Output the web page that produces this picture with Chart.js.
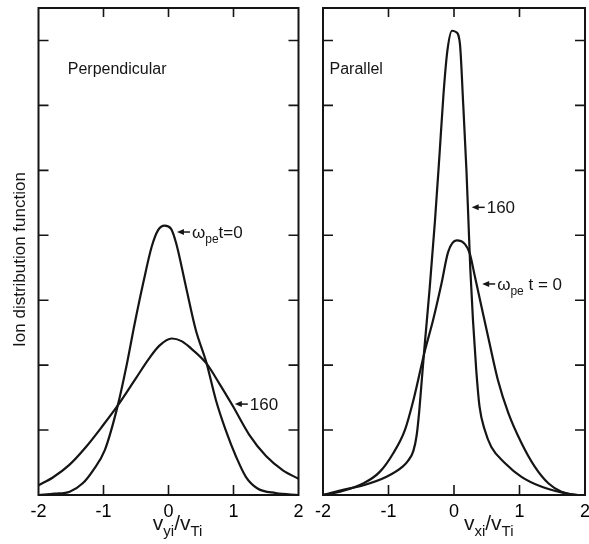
<!DOCTYPE html>
<html>
<head>
<meta charset="utf-8">
<script src="https://cdn.jsdelivr.net/npm/chart.js@4.4.1/dist/chart.umd.min.js"></script>
<style>
  html, body { margin: 0; padding: 0; background: #fff; }
  #wrap { position: relative; width: 589px; height: 544px; }
  canvas { position: absolute; top: 0; }
</style>
</head>
<body>
<div id="wrap">
  <canvas id="perp" width="312" height="544" style="left:0"></canvas>
  <canvas id="para" width="277" height="544" style="left:312px"></canvas>
</div>
<script>
// Perpendicular panel, omega_pe t = 0 (narrow) and 160 (broad)
const perpX0 = [-2, -1.75, -1.52, -1.32, -1.16, -0.98, -0.78, -0.65, -0.52, -0.39, -0.26, -0.16, -0.06, 0.04, 0.12, 0.27, 0.42, 0.58, 0.73, 0.88, 1.04, 1.19, 1.37, 1.65, 2];
const perpY0 = [0, 0.02, 0.05, 0.18, 0.38, 0.69, 1.38, 1.97, 2.64, 3.26, 3.82, 4.08, 4.15, 4.1, 3.87, 3.2, 2.54, 2.05, 1.46, 1.0, 0.59, 0.28, 0.1, 0.03, 0];
const perpX1 = [-2, -1.78, -1.53, -1.27, -1.01, -0.78, -0.5, -0.3, -0.14, 0.05, 0.2, 0.32, 0.58, 0.78, 0.99, 1.24, 1.5, 1.76, 2];
const perpY1 = [0.15, 0.27, 0.46, 0.74, 1.07, 1.38, 1.8, 2.1, 2.3, 2.41, 2.37, 2.28, 2.03, 1.72, 1.37, 0.93, 0.6, 0.38, 0.25];

// Parallel panel, omega_pe t = 0 (broad) and 160 (tall)
const paraX0 = [-2, -1.74, -1.38, -1.13, -0.93, -0.75, -0.62, -0.45, -0.32, -0.19, -0.09, 0.04, 0.17, 0.24, 0.32, 0.42, 0.52, 0.67, 0.83, 1.03, 1.23, 1.44, 1.64, 1.89, 2];
const paraY0 = [0, 0.05, 0.18, 0.36, 0.64, 1.0, 1.46, 2.2, 2.69, 3.26, 3.74, 3.92, 3.86, 3.72, 3.36, 2.9, 2.44, 1.77, 1.26, 0.8, 0.44, 0.18, 0.05, 0, 0];
const paraX1 = [-2, -1.74, -1.38, -1.03, -0.78, -0.7, -0.62, -0.57, -0.53, -0.5, -0.45, -0.37, -0.29, -0.22, -0.16, -0.1, -0.03, 0.03, 0.09, 0.14, 0.19, 0.22, 0.25, 0.29, 0.34, 0.39, 0.47, 0.57, 0.78, 1.03, 1.33, 1.64, 1.9, 2];
const paraY1 = [0, 0.07, 0.15, 0.28, 0.44, 0.53, 0.68, 0.92, 1.3, 1.67, 2.28, 3.2, 4.23, 5.26, 6.18, 6.85, 7.15, 7.13, 6.95, 6.03, 5.0, 4.23, 3.46, 2.69, 1.92, 1.36, 1.0, 0.74, 0.49, 0.28, 0.13, 0.04, 0, 0];

// labels ('_' = subscript)
const yTitle = 'Ion distribution function';
const perpTitle = ['v', '_yi', '/', 'v', '_Ti'];
const paraTitle = ['v', '_xi', '/', 'v', '_Ti'];
const perpLabel0 = ['ω', '_pe', 't', '=', '0'];
const paraLabel0 = ['ω', '_pe', ' t = 0'];
const label160 = ['160'];

const INK = '#151515';
const FONT = '"Liberation Sans", Arial, sans-serif';

function pts(xs, ys) { return xs.map((x, i) => ({ x, y: ys[i] })); }

function rich(ctx, parts, x, y, size, measureOnly) {
    let cx = x;
    parts.forEach(p => {
        const sub = p[0] === '_';
        const t = sub ? p.slice(1) : p;
        ctx.font = (sub ? Math.round(size * 0.72) : size) + 'px ' + FONT;
        if (!measureOnly) ctx.fillText(t, cx, sub ? y + size * 0.3 : y);
        cx += ctx.measureText(t).width;
    });
    return cx - x;
}

function makePaper(cfg) {
    return {
        id: 'paper',
        afterDraw(chart) {
            const { ctx, chartArea: a, scales: { x, y } } = chart;
            ctx.save();
            ctx.strokeStyle = INK;
            ctx.fillStyle = INK;
            ctx.lineWidth = 2;
            ctx.strokeRect(a.left, a.top, a.right - a.left, a.bottom - a.top);

            // inward ticks on all four sides
            ctx.lineWidth = 1.6;
            ctx.beginPath();
            x.ticks.forEach(t => {
                if (t.value <= x.min || t.value >= x.max) return;
                const px = x.getPixelForValue(t.value);
                ctx.moveTo(px, a.bottom); ctx.lineTo(px, a.bottom - 10);
                ctx.moveTo(px, a.top); ctx.lineTo(px, a.top + 9);
            });
            y.ticks.forEach(t => {
                if (t.value <= y.min || t.value >= y.max) return;
                const py = y.getPixelForValue(t.value);
                ctx.moveTo(a.left, py); ctx.lineTo(a.left + 10, py);
                ctx.moveTo(a.right, py); ctx.lineTo(a.right - 10, py);
            });
            ctx.stroke();

            ctx.textBaseline = 'alphabetic';
            ctx.textAlign = 'left';

            // panel name
            ctx.font = '16px ' + FONT;
            ctx.fillText(cfg.name, x.getPixelForValue(cfg.nameAt[0]), y.getPixelForValue(cfg.nameAt[1]));

            // arrows with labels
            cfg.notes.forEach(n => {
                const tx = x.getPixelForValue(n.x), ty = y.getPixelForValue(n.y);
                ctx.lineWidth = 1.5;
                ctx.beginPath();
                ctx.moveTo(tx + 4, ty); ctx.lineTo(tx + 13, ty);
                ctx.stroke();
                ctx.beginPath();
                ctx.moveTo(tx, ty); ctx.lineTo(tx + 7, ty - 3); ctx.lineTo(tx + 7, ty + 3);
                ctx.closePath();
                ctx.fill();
                rich(ctx, n.text, tx + 15, ty + 6, 17);
            });

            // x axis title with subscripts
            const w = rich(ctx, cfg.xTitle, 0, 0, 21, true);
            rich(ctx, cfg.xTitle, x.getPixelForValue(cfg.xTitleAt) - w / 2, a.bottom + 35, 21);

            if (cfg.yTitle) {
                ctx.save();
                ctx.translate(25, (a.top + a.bottom) / 2 + 8);
                ctx.rotate(-Math.PI / 2);
                ctx.textAlign = 'center';
                ctx.font = '17px ' + FONT;
                ctx.fillText(cfg.yTitle, 0, 0);
                ctx.restore();
            }
            ctx.restore();
        }
    };
}

function line(data) {
    return {
        data,
        borderColor: INK,
        borderWidth: 2.2,
        pointRadius: 0,
        fill: false,
        cubicInterpolationMode: 'monotone'
    };
}

function makeChart(id, sets, yWidth, padRight, cfg) {
    return new Chart(document.getElementById(id), {
        type: 'line',
        data: { datasets: sets.map(line) },
        options: {
            responsive: false,
            animation: false,
            devicePixelRatio: 1,
            layout: { padding: { top: 8, right: padRight, left: 0, bottom: 0 } },
            plugins: { legend: { display: false }, tooltip: { enabled: false } },
            scales: {
                x: {
                    type: 'linear', min: -2, max: 2,
                    grid: { display: false, drawTicks: false },
                    border: { display: false },
                    ticks: { stepSize: 1, color: '#000', padding: 6, font: { size: 18, family: FONT } },
                    afterFit: s => { s.height = 49; s.paddingLeft = 0; s.paddingRight = 0; }
                },
                y: {
                    type: 'linear', min: 0, max: 7.5,
                    grid: { display: false, drawTicks: false },
                    border: { display: false },
                    ticks: { stepSize: 1, display: false },
                    afterFit: s => { s.width = yWidth; }
                }
            }
        },
        plugins: [makePaper(cfg)]
    });
}

makeChart('perp', [pts(perpX0, perpY0), pts(perpX1, perpY1)], 38.5, 13.5, {
    name: 'Perpendicular', nameAt: [-1.55, 6.48],
    notes: [
        { x: 0.13, y: 4.05, text: perpLabel0 },
        { x: 1.02, y: 1.40, text: label160 }
    ],
    xTitle: perpTitle, xTitleAt: 0.14,
    yTitle: yTitle
});

makeChart('para', [pts(paraX0, paraY0), pts(paraX1, paraY1)], 11, 4, {
    name: 'Parallel', nameAt: [-1.9, 6.48],
    notes: [
        { x: 0.27, y: 4.43, text: label160 },
        { x: 0.43, y: 3.25, text: paraLabel0 }
    ],
    xTitle: paraTitle, xTitleAt: 0.53
});
</script>
</body>
</html>
